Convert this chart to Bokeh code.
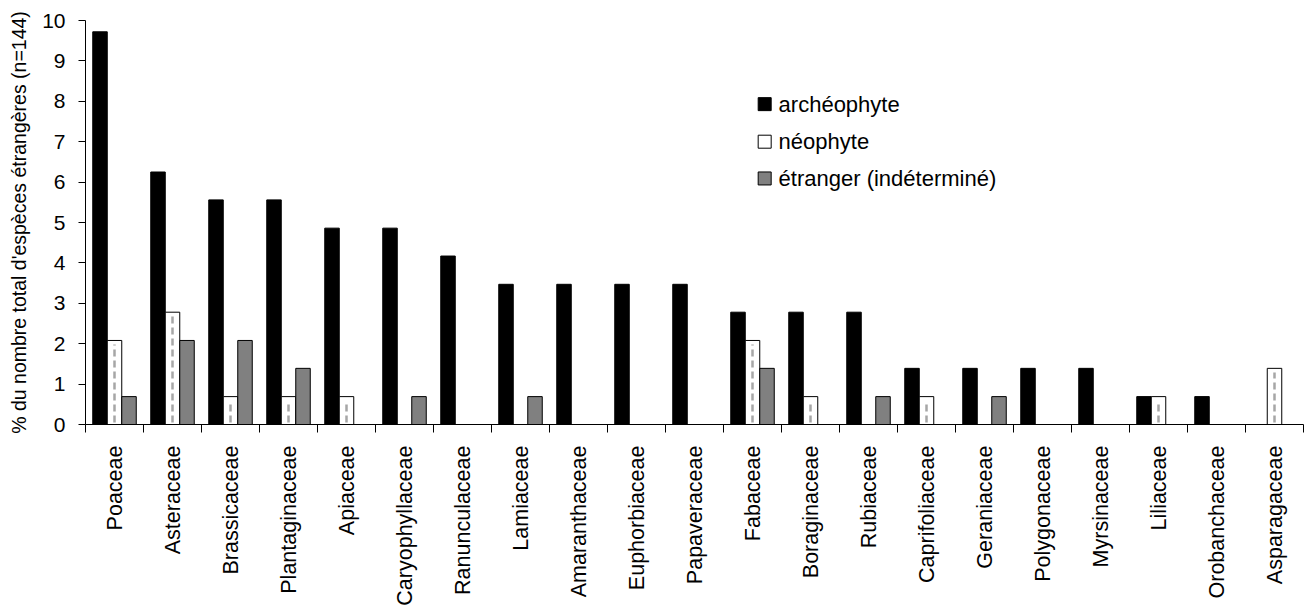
import math
from bokeh.plotting import figure
from bokeh.models import Range1d, FixedTicker, ColumnDataSource
from bokeh.core.properties import value
from bokeh.embed import file_html
from bokeh.resources import INLINE

families = ["Poaceae", "Asteraceae", "Brassicaceae", "Plantaginaceae", "Apiaceae",
            "Caryophyllaceae", "Ranunculaceae", "Lamiaceae", "Amaranthaceae",
            "Euphorbiaceae", "Papaveraceae", "Fabaceae", "Boraginaceae", "Rubiaceae",
            "Caprifoliaceae", "Geraniaceae", "Polygonaceae", "Myrsinaceae",
            "Liliaceae", "Orobanchaceae", "Asparagaceae"]
archeophyte = [9.72, 6.25, 5.56, 5.56, 4.86, 4.86, 4.17, 3.47, 3.47, 3.47, 3.47,
               2.78, 2.78, 2.78, 1.39, 1.39, 1.39, 1.39, 0.69, 0.69, 0.0]
neophyte = [2.08, 2.78, 0.69, 0.69, 0.69, 0.0, 0.0, 0.0, 0.0, 0.0, 0.0,
            2.08, 0.69, 0.0, 0.69, 0.0, 0.0, 0.0, 0.69, 0.0, 1.39]
etranger = [0.69, 2.08, 2.08, 1.39, 0.0, 0.69, 0.0, 0.69, 0.0, 0.0, 0.0,
            1.39, 0.0, 0.69, 0.0, 0.69, 0.0, 0.0, 0.0, 0.0, 0.0]
series_labels = ["archéophyte", "néophyte", "étranger (indéterminé)"]
y_ticks = list(range(0, 11))

FONT = "Liberation Sans"
n = len(families)
centers = [i + 0.5 for i in range(n)]
bw = 0.25

p = figure(width=1306, height=609, output_backend="svg", toolbar_location=None,
           x_range=Range1d(0, n), y_range=Range1d(0, 10),
           min_border_left=85, min_border_top=20, min_border_bottom=185,
           min_border_right=3)
p.outline_line_color = None
p.xgrid.visible = False
p.ygrid.visible = False
p.background_fill_color = "white"

src = ColumnDataSource(dict(
    xa=[c - bw for c in centers], xn=centers, xe=[c + bw for c in centers],
    a=archeophyte, nn=neophyte, e=etranger))

p.vbar(x="xa", top="a", width=bw, source=src, fill_color="black", line_color="black", line_width=1)
p.vbar(x="xn", top="nn", width=bw, source=src, fill_color="white", line_color="black", line_width=1)
p.vbar(x="xe", top="e", width=bw, source=src, fill_color="#808080", line_color="black", line_width=1)

# dashed pattern inside néophyte bars
nx = [c for c, v in zip(centers, neophyte) if v > 0]
ny = [v for v in neophyte if v > 0]
p.segment(x0=nx, y0=[0.05] * len(nx), x1=nx, y1=[v - 0.1 for v in ny],
          line_color="#a6a6a6", line_width=2.5, line_dash="7 4")

# y axis
p.yaxis.ticker = FixedTicker(ticks=y_ticks)
p.yaxis.major_tick_out = 7
p.yaxis.major_tick_in = 0
p.yaxis.minor_tick_out = 0
p.yaxis.minor_tick_in = 0
p.yaxis.axis_line_color = "black"
p.yaxis.major_label_text_font = FONT
p.yaxis.major_label_text_font_size = "21px"
p.yaxis.major_label_text_color = "black"
p.yaxis.major_label_standoff = 13
p.yaxis.axis_label = "% du nombre total d'espèces étrangères (n=144)"
p.yaxis.axis_label_text_font = FONT
p.yaxis.axis_label_text_font_size = "19.5px"
p.yaxis.axis_label_text_font_style = "normal"
p.yaxis.axis_label_text_color = "black"
p.yaxis.axis_label_standoff = 9

# x axis: labels at category centres, tick marks at category boundaries
p.xaxis.ticker = FixedTicker(ticks=centers, minor_ticks=list(range(n + 1)))
p.xaxis.major_label_overrides = {c: f for c, f in zip(centers, families)}
p.xaxis.major_label_orientation = math.pi / 2
p.xaxis.major_tick_out = 0
p.xaxis.major_tick_in = 0
p.xaxis.minor_tick_out = 8
p.xaxis.minor_tick_in = 0
p.xaxis.minor_tick_line_color = "black"
p.xaxis.axis_line_color = "black"
p.xaxis.major_label_text_font = FONT
p.xaxis.major_label_text_font_size = "21.5px"
p.xaxis.major_label_text_color = "black"
p.xaxis.major_label_standoff = 13

# legend (manual)
leg_x = 11.71
leg_y = [7.93, 7.0, 6.09]
p.scatter(x=[leg_x] * 3, y=leg_y, marker="square", size=13,
          fill_color=["black", "white", "#808080"], line_color="black", line_width=1)
p.text(x=[leg_x + 0.24] * 3, y=leg_y, text=series_labels, text_font=value(FONT),
       text_font_size="22px", text_color="black", text_baseline="middle", text_align="left")

open("out.html", "w").write(file_html(p, INLINE))
